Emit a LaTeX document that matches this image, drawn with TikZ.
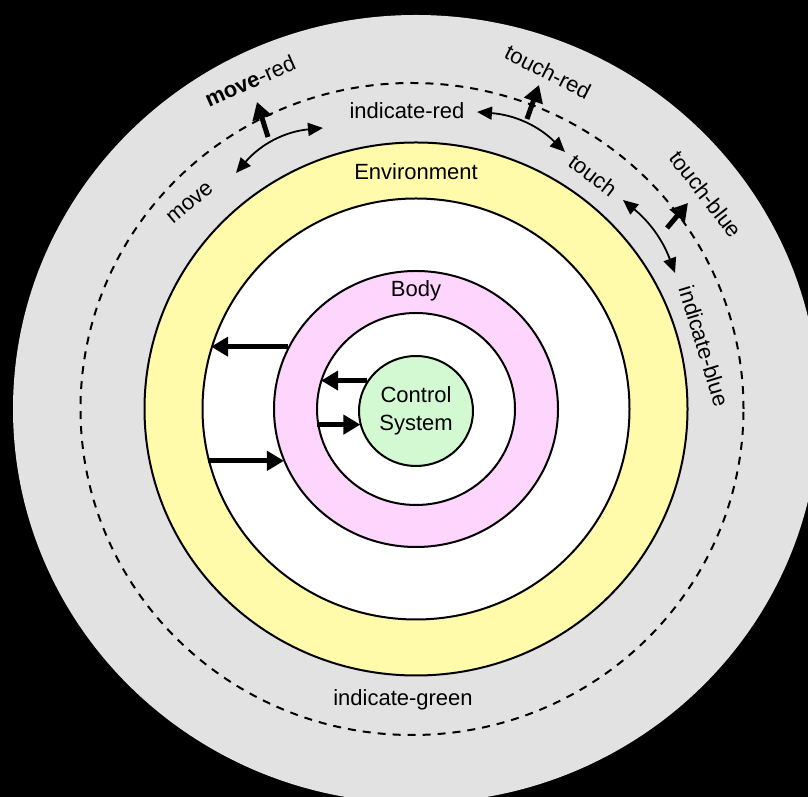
\documentclass[tikz,border=0pt]{standalone}
\usepackage{fontspec}
\setmainfont{Liberation Sans}
\usetikzlibrary{shapes.geometric,positioning,arrows.meta}

\definecolor{outergray}{HTML}{E2E2E2}
\definecolor{envyellow}{HTML}{FFFBAA}
\definecolor{bodypink}{HTML}{FDD5FD}
\definecolor{csgreen}{HTML}{D3F9D3}

\tikzset{
  ring/.style={ellipse, draw, line width=1pt, inner sep=0pt},
  lbl/.style={font=\fontsize{11}{14}\selectfont, inner sep=0pt},
  flow/.style={line width=2.5pt, -{Triangle[length=8.5pt,width=9.5pt]}},
  twoway/.style={line width=0.9pt, {Triangle[length=7.5pt,width=6.5pt]}-{Triangle[length=7.5pt,width=6.5pt]}},
}

\begin{document}
\begin{tikzpicture}[x=0.5pt, y=0.5pt, on grid]
        \fill[black] (0,0) rectangle (808,797);
        \useasboundingbox (0,0) rectangle (808,797);
        \clip (0,0) rectangle (808,797);

        \coordinate (c) at (416,388);
        \fill[outergray] (c) ellipse [x radius=403, y radius=394];

        \node [ellipse, draw, line width=1pt, dash pattern=on 4pt off 3.5pt,
               minimum width=331.5pt, minimum height=326pt] (world) at (412,388) {};

        \node [ring, fill=envyellow, minimum width=271.5pt, minimum height=266.5pt] (env) at (c) {};
        \node [ring, fill=white, minimum width=213.5pt, minimum height=210.5pt] (envin) at (c) {};
        \node [ring, fill=bodypink, minimum width=142pt, minimum height=138pt] (body) at (c) {};
        \node [ring, fill=white, minimum width=99pt, minimum height=96pt] (bodyin) at (c) {};
        \node [ring, fill=csgreen, minimum width=57pt, minimum height=55pt, lbl, align=center] (cs) at (416,386) {Control\\System};

        \node [lbl, below=15.25pt of env.north, anchor=center] (envlabel) {Environment};
        \node [lbl, below=10.5pt of body.north, anchor=center] (bodylabel) {Body};
        \node [lbl, below left=14.5pt and 2.5pt of world.north, anchor=center] (indred) {indicate-red};
        \node [lbl, above left=18pt and 4.5pt of world.south, anchor=center] (indgreen) {indicate-green};

        \node [lbl, rotate=40] (move) at (190,594) {move};
        \node [lbl, rotate=24] (movered) at (250,716) {\textbf{move}-red};
        \node [lbl, rotate=-27] (touchred) at (548,725) {touch-red};
        \node [lbl, rotate=-37] (touch) at (593,622) {touch};
        \node [lbl, rotate=-52] (touchblue) at (706,603) {touch-blue};
        \node [lbl, rotate=-73] (indblue) at (704,451) {indicate-blue};

        \coordinate (m1) at (236,624);
        \coordinate (m2) at (323,669);
        \coordinate (r1) at (477,685);
        \coordinate (r2) at (565,645);
        \coordinate (t1) at (623,597);
        \coordinate (t2) at (675,524);

        \path[twoway] (m1) edge [bend left=22] (m2);
        \path[twoway] (r1) edge [bend left=20] (r2);
        \path[twoway] (t1) edge [bend left=15] (t2);

        \coordinate (mr1) at (268,660);
        \coordinate (mr2) at (257,695);
        \coordinate (tr1) at (527,678);
        \coordinate (tr2) at (539,712);
        \coordinate (tb1) at (667,569);
        \coordinate (tb2) at (688,594);

        \draw[flow] (mr1) -- (mr2);
        \draw[flow] (tr1) -- (tr2);
        \draw[flow] (tb1) -- (tb2);

        \draw[flow] (body.154) -- (body.154 -| envin.163);
        \draw[flow] (envin.194) -- (envin.194 -| body.202);
        \draw[flow] (cs.148) -- (cs.148 -| bodyin.162);
        \draw[flow] (bodyin.189) -- (bodyin.189 -| cs.196);
    \end{tikzpicture}
\end{document}
